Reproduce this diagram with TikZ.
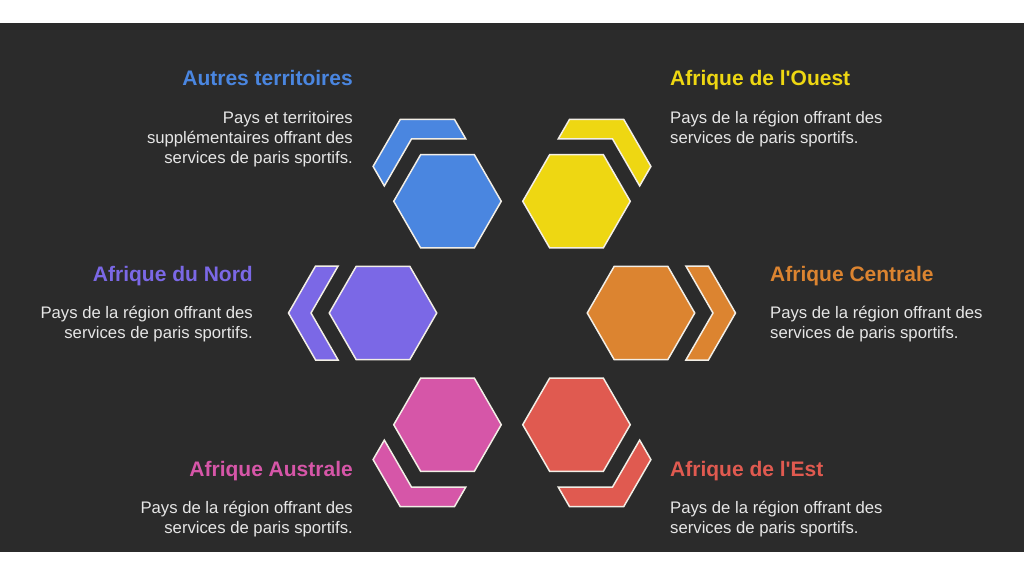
\documentclass[tikz,border=0pt]{standalone}
\usepackage{fontspec}
\setmainfont{Liberation Sans}
\usetikzlibrary{positioning,shapes.geometric}

\definecolor{bgdark}{HTML}{2B2B2B}
\definecolor{edgewhite}{HTML}{F2EEE6}
\definecolor{bodywhite}{HTML}{E6E6E6}
\definecolor{col-autres}{HTML}{4A86E0}
\definecolor{col-ouest}{HTML}{EED712}
\definecolor{col-nord}{HTML}{7B68E6}
\definecolor{col-centrale}{HTML}{DC8430}
\definecolor{col-australe}{HTML}{D656A8}
\definecolor{col-est}{HTML}{E05A50}

\begin{document}
\begin{tikzpicture}[x=1pt,y=1pt,
  hexa/.style={regular polygon, regular polygon sides=6, minimum size=107.5pt,
    inner sep=0pt, draw=edgewhite, line width=1.5pt},
  chevron/.style={draw=edgewhite, line width=1.5pt},
  heading/.style={inner sep=0pt, font=\fontsize{21}{25}\selectfont\bfseries},
  body/.style={inner sep=0pt, text=bodywhite, align=#1,
    font=\fontsize{16.7}{20}\selectfont}]
  \useasboundingbox (-512,-263) rectangle (512,313);
  \fill[white] (-512,-263) rectangle (512,313);
  \fill[bgdark] (-512,-239) rectangle (512,290);

  % hexagons around the centre
  \node[hexa, fill=col-autres] (autres) at (120:129) {};
  \node[hexa, fill=col-ouest] (ouest) at (60:129) {};
  \node[hexa, fill=col-nord] (nord) at (180:129) {};
  \node[hexa, fill=col-centrale] (centrale) at (0:129) {};
  \node[hexa, fill=col-australe] (australe) at (240:129) {};
  \node[hexa, fill=col-est] (est) at (300:129) {};

  % outer chevrons
  \foreach \hx/\ang in {autres/120, ouest/60, nord/180, centrale/0, australe/240, est/300}
    \draw[chevron, fill=col-\hx, shift={(\hx.center)}, rotate=\ang]
      (94.5,0) -- (67.4,47) -- (44.9,47) -- (72,0) -- (44.9,-47) -- (67.4,-47) -- cycle;

  % left labels
  \node[heading, text=col-autres, anchor=base east] (autres-t) at (-159,227) {Autres territoires};
  \node[body=right, below left=23pt and 0pt of autres-t.base east] (autres-d)
    {\strut Pays et territoires\\suppl\'ementaires offrant des\\services de paris sportifs.};
  \node[heading, text=col-nord, anchor=base east] (nord-t) at (-259,32) {Afrique du Nord};
  \node[body=right, below left=23pt and 0pt of nord-t.base east] (nord-d)
    {\strut Pays de la r\'egion offrant des\\services de paris sportifs.};
  \node[heading, text=col-australe, anchor=base east] (australe-t) at (-159,-163) {Afrique Australe};
  \node[body=right, below left=23pt and 0pt of australe-t.base east] (australe-d)
    {\strut Pays de la r\'egion offrant des\\services de paris sportifs.};

  % right labels
  \node[heading, text=col-ouest, anchor=base west] (ouest-t) at (158,227) {Afrique de l\textquotesingle Ouest};
  \node[body=left, below right=23pt and 0pt of ouest-t.base west] (ouest-d)
    {\strut Pays de la r\'egion offrant des\\services de paris sportifs.};
  \node[heading, text=col-centrale, anchor=base west] (centrale-t) at (258,32) {Afrique Centrale};
  \node[body=left, below right=23pt and 0pt of centrale-t.base west] (centrale-d)
    {\strut Pays de la r\'egion offrant des\\services de paris sportifs.};
  \node[heading, text=col-est, anchor=base west] (est-t) at (158,-163) {Afrique de l\textquotesingle Est};
  \node[body=left, below right=23pt and 0pt of est-t.base west] (est-d)
    {\strut Pays de la r\'egion offrant des\\services de paris sportifs.};
\end{tikzpicture}
\end{document}
